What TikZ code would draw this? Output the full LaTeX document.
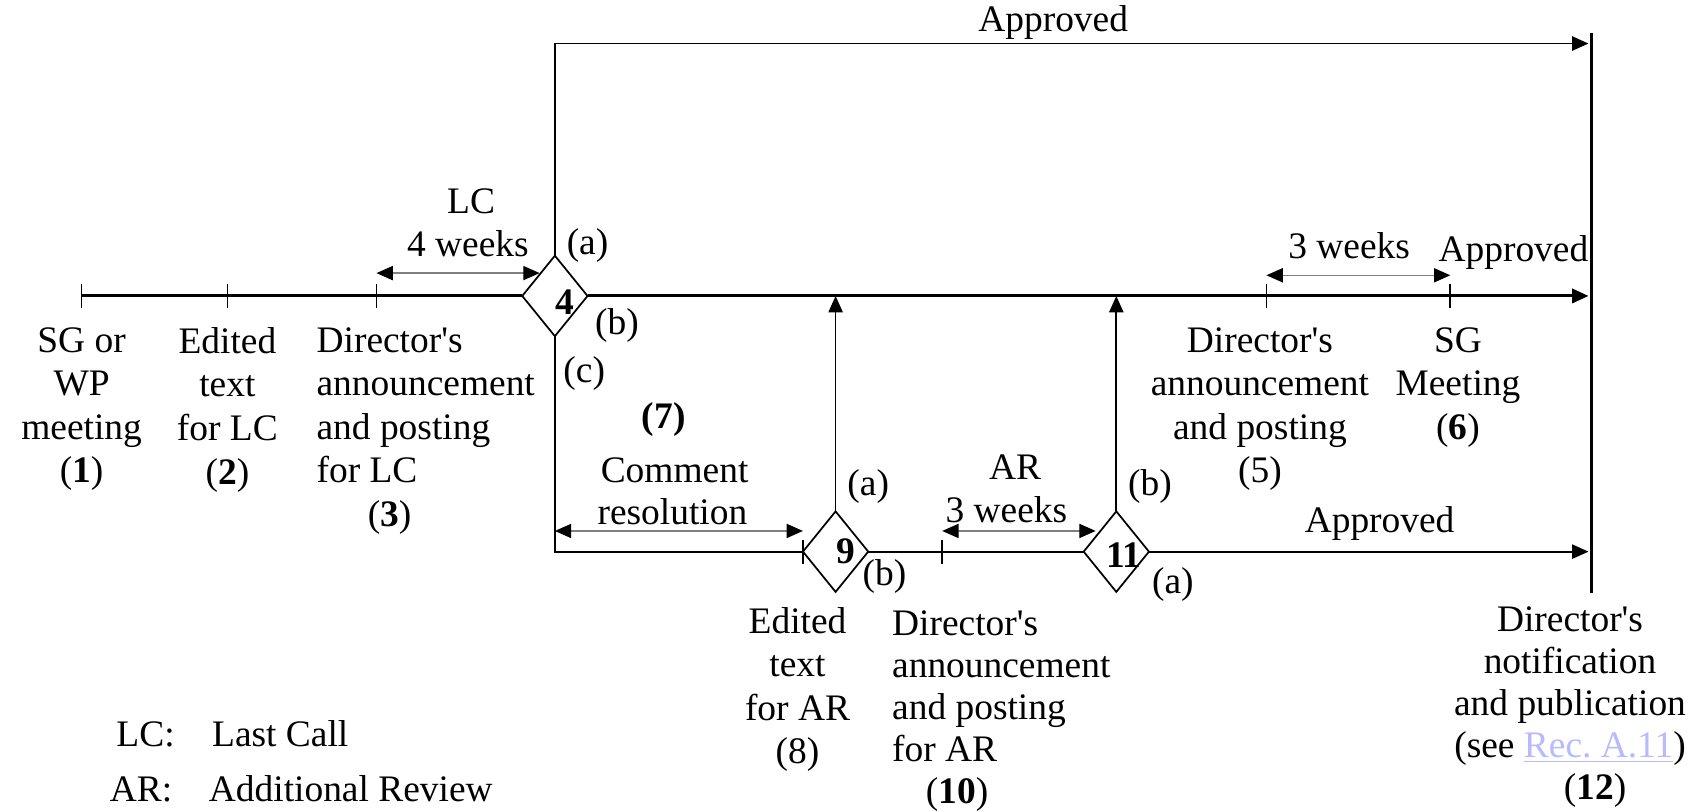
\documentclass[tikz,border=0pt]{standalone}
\usepackage{fontspec}
\setmainfont{Liberation Serif}
\usetikzlibrary{shapes.geometric,arrows.meta}
\definecolor{linkc}{RGB}{185,185,255}
\newcommand{\aps}{\textquotesingle}
\begin{document}
\begin{tikzpicture}[x=0.5pt,y=-0.5pt,
  every node/.style={font=\fontsize{17.2pt}{20pt}\selectfont, inner sep=0pt, outer sep=0pt},
  mainln/.style={line width=1.4pt},
  ln/.style={line width=0.8pt},
  arr/.style={-{Triangle[length=7.5pt,width=6.5pt]}},
  dbl/.style={{Triangle[length=7.5pt,width=6.5pt,color=black]}-{Triangle[length=7.5pt,width=6.5pt,color=black]}, line width=0.6pt, draw=gray},
  dia/.style={draw, diamond, minimum width=30pt, minimum height=37pt, line width=0.8pt},
  tk/.style={line width=0.8pt},
  blk/.style={align=center, anchor=north},
  blkl/.style={align=left, anchor=north west},
  tight/.style={font=\fontsize{17.2pt}{19.3pt}\selectfont},
]
\useasboundingbox (0,0) rectangle (1568,746);

% diamonds
\node[dia] (d4) at (510,272) {};
\node[dia] (d9) at (768,507) {};
\node[dia] (d11) at (1026,507) {};
\node[font=\fontsize{17.2pt}{20pt}\selectfont\bfseries] (n4) at (519,278) {4};
\node[font=\fontsize{17.2pt}{20pt}\selectfont\bfseries] (n9) at (777,507) {9};
\node[font=\fontsize{17.2pt}{20pt}\selectfont\bfseries] (n11) at (1033,510) {11};

% coordinates
\coordinate (t1) at (75,272);
\coordinate (t2) at (209,272);
\coordinate (t3) at (346,272);
\coordinate (t5) at (1164,272);
\coordinate (t6) at (1333,272);
\coordinate (e) at (1460,272);
\coordinate (topL) at (510,40);
\coordinate (topE) at (1460,40);
\coordinate (botL) at (510,507);
\coordinate (botE) at (1460,507);
\coordinate (u9) at (768,272);
\coordinate (u11) at (1026,272);
\coordinate (t10) at (866,507);
\coordinate (vT) at (1463,30);
\coordinate (vB) at (1463,545);

% main line
\draw[mainln] (t1) -- (d4.west);
\draw[mainln,arr] (d4.east) -- (e);
\draw[mainln] (vT) -- (vB);
\foreach \c in {t1,t2,t3,t5,t6} {\draw[tk] (\c) ++(0,-11) -- ++(0,22);}
\draw[tk] (d9.west) ++(0,-11) -- ++(0,22);
\draw[tk] (t10) ++(0,-11) -- ++(0,22);

% other flows
\draw[ln,arr] (d4.north) -- (topL) -- (topE);
\draw[ln] (d4.south) -- (botL) -- (d9.west);
\draw[ln] (d9.east) -- (d11.west);
\draw[ln,arr] (d11.east) -- (botE);
\draw[ln,arr] (d9.north) -- (u9);
\draw[ln,arr] (d11.north) -- (u11);

% double arrows
\coordinate (lcA) at (346,251);
\coordinate (lcB) at (496,251);
\coordinate (wkA) at (1164,253);
\coordinate (wkB) at (1333,253);
\coordinate (crA) at (510,488);
\coordinate (crB) at (738,488);
\coordinate (arA) at (866,488);
\coordinate (arB) at (1007,488);
\draw[dbl] (lcA) -- (lcB);
\draw[dbl] (wkA) -- (wkB);
\draw[dbl] (crA) -- (crB);
\draw[dbl] (arA) -- (arB);

% labels
\node (ap1) at (968,21) {Approved};
\node (lc) at (433,185) {LC};
\node (lcw) at (430,224) {4 weeks};
\node (a4) at (540,226) {(a)};
\node (b4) at (567,299) {(b)};
\node (c4) at (537,343) {(c)};
\node[font=\fontsize{17.2pt}{20pt}\selectfont\bfseries] (l7) at (610,386) {(7)};
\node (cm) at (620,432) {Comment};
\node (rs) at (618,470) {resolution};
\node (a9) at (798,447) {(a)};
\node (b9) at (813,530) {(b)};
\node (ar) at (933,429) {AR};
\node (arw) at (925,468) {3 weeks};
\node (b11) at (1057,447) {(b)};
\node (a11) at (1078,537) {(a)};
\node (ap3) at (1268,481) {Approved};
\node (w3) at (1240,226) {3 weeks};
\node (ap2) at (1391,232) {Approved};

% text blocks
\node[blk] (s1) at (75,301) {SG or\\WP\\meeting\\(\textbf{1})};
\node[blk] (s2) at (209,301) {Edited\\text\\for LC\\(\textbf{2})};
\node[blkl] (s3) at (291,301) {Director\aps s\\announcement\\and posting\\for LC\\\hspace*{23.5pt}(\textbf{3})};
\node[blk] (s5) at (1158,301) {Director\aps s\\announcement\\and posting\\(5)};
\node[blk] (s6) at (1340,301) {SG\\Meeting\\(\textbf{6})};
\node[blk] (s8) at (733,558) {Edited\\text\\for AR\\(8)};
\node[blkl,tight] (s10) at (820,561) {Director\aps s\\announcement\\and posting\\for AR\\\hspace*{15.5pt}(\textbf{10})};
\node[blk,tight] (s12) at (1443,558) {Director\aps s\\notification\\and publication\\(see \textcolor{linkc}{\underline{Rec.\ A.11}})\\\hspace*{23pt}(\textbf{12})};

% legend
\node[anchor=base west] (lg1) at (107,686) {LC:};
\node[anchor=base west] (lg1t) at (195,686) {Last Call};
\node[anchor=base west] (lg2) at (101,737) {AR:};
\node[anchor=base west] (lg2t) at (192,737) {Additional Review};
\end{tikzpicture}
\end{document}
